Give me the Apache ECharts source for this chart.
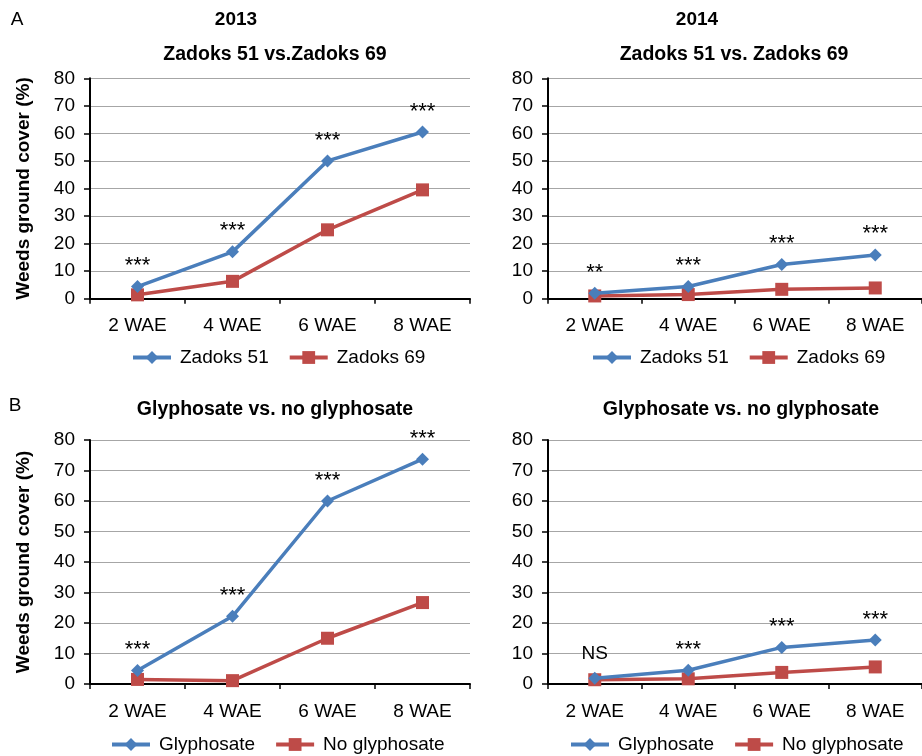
<!DOCTYPE html>
<html><head><meta charset="utf-8">
<script src="https://cdn.jsdelivr.net/npm/echarts@6/dist/echarts.min.js"></script>
<style>html,body{margin:0;padding:0;background:#fff}#c{width:922px;height:756px}</style>
</head><body><div id="c"></div>
<script>
const categories = ['2 WAE', '4 WAE', '6 WAE', '8 WAE'];
const yTicks = [0, 10, 20, 30, 40, 50, 60, 70, 80];

const zadoks51_2013 = [4.4, 17, 50, 60.5];
const zadoks69_2013 = [1.4, 6.3, 25, 39.5];
const zadoks51_2014 = [2.0, 4.4, 12.4, 15.9];
const zadoks69_2014 = [1.0, 1.5, 3.4, 3.9];
const glyph_2013 = [4.4, 22.2, 60, 73.7];
const noGlyph_2013 = [1.5, 1.1, 15, 26.7];
const glyph_2014 = [1.9, 4.5, 12.0, 14.4];
const noGlyph_2014 = [1.4, 1.7, 3.8, 5.6];

const sigA2013 = ['***', '***', '***', '***'];
const sigA2014 = ['**', '***', '***', '***'];
const sigB2013 = ['***', '***', '***', '***'];
const sigB2014 = ['NS', '***', '***', '***'];

const BLUE = '#4a7ebb', RED = '#be4b48';
const FONT = 'Liberation Sans, Arial, Helvetica, sans-serif';

const grids = [
  {left: 90, top: 78.3, width: 380, height: 220.4},
  {left: 548, top: 78.3, width: 384, height: 220.4},
  {left: 90, top: 440, width: 380, height: 244},
  {left: 548, top: 440, width: 384, height: 244}
];

function xAx(i) {
  return {
    type: 'category', gridIndex: i, data: categories, boundaryGap: true,
    axisLine: {lineStyle: {color: '#000', width: 2}},
    axisTick: {show: true, alignWithLabel: false, length: 5, lineStyle: {color: '#000', width: 1.5}},
    axisLabel: {color: '#000', fontSize: 19, fontFamily: FONT, margin: 18},
    splitLine: {show: false}
  };
}
function yAx(i, named) {
  return {
    type: 'value', gridIndex: i, min: yTicks[0], max: yTicks[yTicks.length - 1], interval: yTicks[1] - yTicks[0],
    name: named ? 'Weeds ground cover (%)' : '',
    nameLocation: 'middle', nameRotate: 90, nameGap: 57,
    nameTextStyle: {fontSize: 19, fontWeight: 'bold', color: '#000', fontFamily: FONT},
    axisLine: {show: true, lineStyle: {color: '#000', width: 2}},
    axisTick: {show: true, length: 6, lineStyle: {color: '#000', width: 1.5}},
    axisLabel: {color: '#000', fontSize: 19, fontFamily: FONT, margin: 15},
    splitLine: {show: true, lineStyle: {color: '#a6a6a6', width: 1}}
  };
}
function blueSeries(name, i, data, sig) {
  return {
    name, type: 'line', xAxisIndex: i, yAxisIndex: i, data,
    symbol: 'diamond', symbolSize: 13, clip: false,
    lineStyle: {color: BLUE, width: 3.5}, itemStyle: {color: BLUE},
    label: {
      show: true, position: 'top', distance: 3,
      formatter: p => sig[p.dataIndex] === 'NS' ? '{ns|NS}' : '{st|' + sig[p.dataIndex] + '}',
      rich: {
        st: {fontSize: 22, color: '#000', fontFamily: FONT},
        ns: {fontSize: 19, color: '#000', fontFamily: FONT, padding: [0, 0, 5, 0]}
      }
    },
    z: 3
  };
}
function redSeries(name, i, data) {
  return {
    name, type: 'line', xAxisIndex: i, yAxisIndex: i, data,
    symbol: 'rect', symbolSize: 13, clip: false,
    lineStyle: {color: RED, width: 3.5}, itemStyle: {color: RED},
    z: 2
  };
}
function legend(names, x, top) {
  return {
    data: names, left: x, top: top, padding: 0,
    itemWidth: 38, itemHeight: 16, itemGap: 19,
    lineStyle: {width: 4},
    textStyle: {fontSize: 19, color: '#000', fontFamily: FONT, padding: [0, 0, 0, 4]},
    selectedMode: false
  };
}
function txt(t, x, y, bold, size) {
  return {type: 'text', x, y, style: {text: t, fill: '#000',
    font: (bold ? 'bold ' : '') + size + 'px ' + FONT,
    textAlign: 'center', textVerticalAlign: 'middle'}};
}

const chart = echarts.init(document.getElementById('c'), null, {renderer: 'canvas'});
chart.setOption({
  animation: false,
  grid: grids,
  xAxis: [xAx(0), xAx(1), xAx(2), xAx(3)],
  yAxis: [yAx(0, true), yAx(1, false), yAx(2, true), yAx(3, false)],
  legend: [
    legend(['Zadoks 51', 'Zadoks 69'], 131, 348),
    legend(['Zadoks 51', 'Zadoks 69'], 591, 348),
    legend(['Glyphosate', 'No glyphosate'], 110, 735),
    legend(['Glyphosate', 'No glyphosate'], 569, 735)
  ],
  series: [
    blueSeries('Zadoks 51', 0, zadoks51_2013, sigA2013),
    redSeries('Zadoks 69', 0, zadoks69_2013),
    blueSeries('Zadoks 51', 1, zadoks51_2014, sigA2014),
    redSeries('Zadoks 69', 1, zadoks69_2014),
    blueSeries('Glyphosate', 2, glyph_2013, sigB2013),
    redSeries('No glyphosate', 2, noGlyph_2013),
    blueSeries('Glyphosate', 3, glyph_2014, sigB2014),
    redSeries('No glyphosate', 3, noGlyph_2014)
  ],
  graphic: [
    txt('A', 17, 20, false, 19),
    txt('B', 15, 406, false, 19),
    txt('2013', 236, 20, true, 19),
    txt('2014', 697, 20, true, 19),
    txt('Zadoks 51 vs.Zadoks 69', 275, 55, true, 19.5),
    txt('Zadoks 51 vs. Zadoks 69', 734, 55, true, 19.5),
    txt('Glyphosate vs. no glyphosate', 275, 410, true, 19.5),
    txt('Glyphosate vs. no glyphosate', 741, 410, true, 19.5)
  ]
});
</script></body></html>
